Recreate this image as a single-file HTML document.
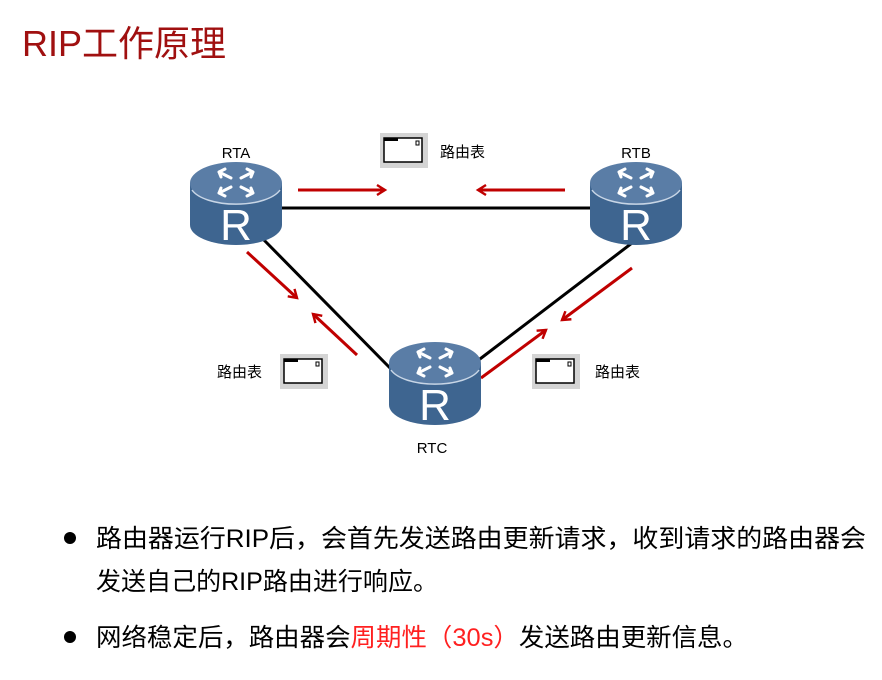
<!DOCTYPE html>
<html><head><meta charset="utf-8"><style>
html,body{margin:0;padding:0;background:#fff;width:882px;height:680px;overflow:hidden}
svg{display:block}
text{font-family:"Liberation Sans","Noto Sans CJK SC",sans-serif}
</style></head><body>
<svg width="882" height="680" viewBox="0 0 882 680" xmlns="http://www.w3.org/2000/svg">
<defs>
<g id="router">
  <path d="M-46,0 L-46,42 A46,20 0 0 0 46,42 L46,0 Z" fill="#3e6590"/>
  <ellipse cx="0" cy="0" rx="46" ry="21" fill="#5a7da6"/>
  <path d="M-44,7 A46,20 0 0 0 44,7" fill="none" stroke="#c8d6e6" stroke-width="1.5"/>
  <g stroke="#fff" stroke-width="3" fill="none" stroke-linecap="round">
    <path d="M-5,-5 L-17,-11 M-17,-11 l6,-3 M-17,-11 l2,5"/>
    <path d="M5,-5 L17,-11 M17,-11 l-6,-3 M17,-11 l-2,5"/>
    <path d="M-5,4 L-17,10 M-17,10 l6,3 M-17,10 l2,-5"/>
    <path d="M5,4 L17,10 M17,10 l-6,3 M17,10 l-2,-5"/>
  </g>
  <text x="0" y="57" text-anchor="middle" font-size="44" fill="#fff">R</text>
</g>
<g id="tbl">
  <rect x="0" y="0" width="48" height="35" fill="#d4d4d4"/>
  <rect x="4" y="5" width="38" height="24" fill="#fff" stroke="#000" stroke-width="1.5"/>
  <rect x="4" y="5" width="14" height="3" fill="#000"/>
  <rect x="36" y="8" width="3" height="4" fill="none" stroke="#000" stroke-width="1"/>
</g>
<marker id="ah" markerWidth="12" markerHeight="12" refX="9" refY="6" orient="auto" markerUnits="userSpaceOnUse">
  <path d="M1,1 L9,6 L1,11" fill="none" stroke="#c00000" stroke-width="2.4"/>
</marker>
</defs>

<text x="22" y="56" font-size="36" fill="#a01010">RIP工作原理</text>

<g stroke="#000" stroke-width="3">
  <line x1="280" y1="208" x2="592" y2="208"/>
  <line x1="262" y1="238" x2="392" y2="370"/>
  <line x1="636" y1="240" x2="476" y2="362"/>
</g>

<g stroke="#c00000" stroke-width="3" fill="none" marker-end="url(#ah)">
  <line x1="298" y1="190" x2="385" y2="190"/>
  <line x1="565" y1="190" x2="478" y2="190"/>
  <line x1="247" y1="252" x2="297" y2="298"/>
  <line x1="357" y1="355" x2="313" y2="314"/>
  <line x1="481" y1="378" x2="546" y2="330"/>
  <line x1="632" y1="268" x2="562" y2="320"/>
</g>

<use href="#router" x="236" y="183"/>
<use href="#router" x="636" y="183"/>
<use href="#router" x="435" y="363"/>

<text x="236" y="158" font-size="15" text-anchor="middle" fill="#000">RTA</text>
<text x="636" y="158" font-size="15" text-anchor="middle" fill="#000">RTB</text>
<text x="432" y="453" font-size="15" text-anchor="middle" fill="#000">RTC</text>

<use href="#tbl" x="380" y="133"/>
<use href="#tbl" x="280" y="354"/>
<use href="#tbl" x="532" y="354"/>
<text x="440" y="157" font-size="15" fill="#000">路由表</text>
<text x="217" y="377" font-size="15" fill="#000">路由表</text>
<text x="595" y="377" font-size="15" fill="#000">路由表</text>

<circle cx="70" cy="538" r="6" fill="#000"/>
<circle cx="70" cy="637" r="6" fill="#000"/>
<text x="96" y="547" font-size="25" fill="#000" textLength="770" lengthAdjust="spacingAndGlyphs">路由器运行RIP后，会首先发送路由更新请求，收到请求的路由器会</text>
<text x="96" y="590" font-size="25" fill="#000" textLength="342" lengthAdjust="spacingAndGlyphs">发送自己的RIP路由进行响应。</text>
<text x="96" y="646" font-size="25" fill="#000" textLength="652" lengthAdjust="spacingAndGlyphs">网络稳定后，路由器会<tspan fill="#ff2020">周期性（30s）</tspan>发送路由更新信息。</text>
</svg>
</body></html>
